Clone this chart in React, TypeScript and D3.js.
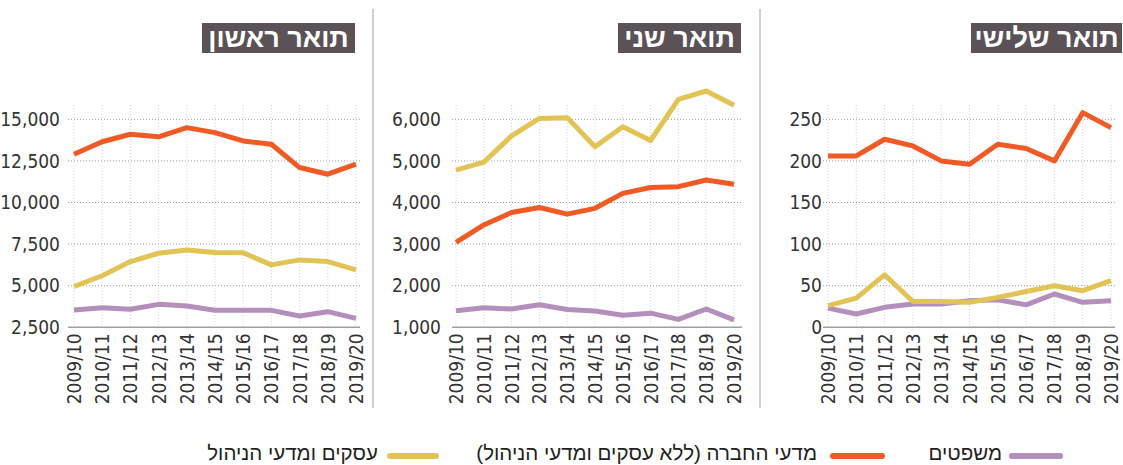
import React from 'react';
import * as d3 from 'd3';

const years = [
    '2009/10', '2010/11', '2011/12', '2012/13', '2013/14', '2014/15',
    '2015/16', '2016/17', '2017/18', '2018/19', '2019/20',
];

// תואר ראשון
const baSocial = [12900, 13650, 14100, 13950, 14500, 14200, 13700, 13500, 12100, 11700, 12300];
const baBusiness = [4950, 5600, 6450, 6950, 7150, 7000, 6980, 6250, 6550, 6450, 5950];
const baLaw = [3540, 3680, 3580, 3880, 3780, 3520, 3520, 3520, 3180, 3440, 3040];
const baTicks = [2500, 5000, 7500, 10000, 12500, 15000];

// תואר שני
const maSocial = [3040, 3460, 3760, 3880, 3720, 3860, 4220, 4360, 4380, 4540, 4440];
const maBusiness = [4780, 4970, 5600, 6020, 6040, 5340, 5820, 5490, 6480, 6680, 6340];
const maLaw = [1400, 1470, 1440, 1540, 1430, 1390, 1290, 1340, 1190, 1440, 1180];
const maTicks = [1000, 2000, 3000, 4000, 5000, 6000];

// תואר שלישי
const phdSocial = [206, 206, 226, 218, 200, 196, 220, 215, 200, 258, 240];
const phdBusiness = [26, 35, 63, 31, 31, 30, 36, 43, 50, 44, 56];
const phdLaw = [23, 16, 24, 28, 28, 32, 33, 27, 40, 30, 32];
const phdTicks = [0, 50, 100, 150, 200, 250];

const seriesNames = {
    law: 'משפטים',
    social: 'מדעי החברה (ללא עסקים ומדעי הניהול)',
    business: 'עסקים ומדעי הניהול',
};

const colors = {
    law: '#b48fbb',
    social: '#f05a24',
    business: '#e2c456',
};

const FONT = "'Liberation Sans Narrow', 'DejaVu Sans Condensed', sans-serif";
const HEB = "'Liberation Sans', 'DejaVu Sans Condensed', sans-serif";

interface PanelProps {
    title: string;
    titleLeft: number;
    titleRight: number;
    labelX: number;
    xFirst: number;
    xLast: number;
    gridLeft: number;
    gridRight: number;
    ticks: number[];
    law: number[];
    social: number[];
    business: number[];
}

const Panel: React.FC<PanelProps> = (p) => {
    const yTop = 119.3;
    const yBottom = 327.3;
    const gridTop = 105;

    const x = d3.scalePoint<string>().domain(years).range([p.xFirst, p.xLast]);
    const y = d3
        .scaleLinear()
        .domain([p.ticks[0], p.ticks[p.ticks.length - 1]])
        .range([yBottom, yTop]);

    const line = d3
        .line<number>()
        .x((_, i) => x(years[i]) as number)
        .y((d) => y(d));

    const fmt = d3.format(',');

    const series: Array<[keyof typeof colors, number[]]> = [
        ['law', p.law],
        ['business', p.business],
        ['social', p.social],
    ];

    return (
        <g>
            {/* כותרת */}
            <rect
                x={p.titleLeft}
                y={23}
                width={p.titleRight - p.titleLeft}
                height={30}
                fill="#5b5257"
            />
            <text
                x={(p.titleLeft + p.titleRight) / 2}
                y={46.5}
                textAnchor="middle"
                fill="#fff"
                fontWeight="bold"
                fontSize={27}
                fontFamily={HEB}
            >
                {p.title}
            </text>

            {/* קווי רשת אנכיים */}
            {years.map((yr) => (
                <line
                    key={yr}
                    x1={x(yr)}
                    x2={x(yr)}
                    y1={gridTop}
                    y2={yBottom}
                    stroke="#d4d4d4"
                    strokeWidth={1}
                    strokeDasharray="1,2"
                />
            ))}

            {/* קווי רשת אופקיים */}
            {p.ticks.map((t) => (
                <g key={t}>
                    {t !== p.ticks[0] && (
                        <line
                            x1={p.gridLeft}
                            x2={p.gridRight}
                            y1={y(t)}
                            y2={y(t)}
                            stroke="#9a9a9a"
                            strokeWidth={1}
                            strokeDasharray="1,2"
                        />
                    )}
                    <text
                        x={p.labelX}
                        y={y(t)}
                        dy="0.35em"
                        textAnchor="end"
                        fontSize={19}
                        fill="#333"
                        fontFamily={FONT}
                    >
                        {fmt(t)}
                    </text>
                </g>
            ))}

            <line
                x1={p.gridLeft}
                x2={p.gridRight}
                y1={yBottom}
                y2={yBottom}
                stroke="#a0a0a0"
                strokeWidth={1.5}
            />

            {series.map(([k, vals]) => (
                <path
                    key={k}
                    d={line(vals) || ''}
                    fill="none"
                    stroke={colors[k]}
                    strokeWidth={5}
                    strokeLinejoin="round"
                />
            ))}

            {/* תוויות ציר X */}
            {years.map((yr) => (
                <text
                    key={yr}
                    transform={`translate(${(x(yr) as number) + 7}, ${yBottom + 6}) rotate(-90)`}
                    textAnchor="end"
                    fontSize={19}
                    fill="#333"
                    fontFamily={FONT}
                >
                    {yr}
                </text>
            ))}
        </g>
    );
};

const LegendItem: React.FC<{ x1: number; x2: number; textX: number; color: string; label: string }> = ({
    x1,
    x2,
    textX,
    color,
    label,
}) => (
    <g>
        <line x1={x1} x2={x2} y1={456} y2={456} stroke={color} strokeWidth={6} strokeLinecap="round" />
        <text
            x={textX}
            y={460}
            direction="rtl"
            textAnchor="start"
            fontSize={20.5}
            fill="#231f20"
            fontFamily={HEB}
        >
            {label}
        </text>
    </g>
);

export default function App() {
    return (
        <svg
            width={1123}
            height={465}
            style={{ position: 'absolute', left: 0, top: 0, background: '#fff' }}
        >
            <Panel
                title="תואר ראשון"
                titleLeft={202}
                titleRight={355}
                labelX={60}
                xFirst={74}
                xLast={356}
                gridLeft={68}
                gridRight={360}
                ticks={baTicks}
                law={baLaw}
                social={baSocial}
                business={baBusiness}
            />
            <Panel
                title="תואר שני"
                titleLeft={618}
                titleRight={741}
                labelX={441}
                xFirst={456}
                xLast={734}
                gridLeft={452}
                gridRight={742}
                ticks={maTicks}
                law={maLaw}
                social={maSocial}
                business={maBusiness}
            />
            <Panel
                title="תואר שלישי"
                titleLeft={971}
                titleRight={1122}
                labelX={822}
                xFirst={828}
                xLast={1111}
                gridLeft={823}
                gridRight={1115}
                ticks={phdTicks}
                law={phdLaw}
                social={phdSocial}
                business={phdBusiness}
            />

            {/* קווי הפרדה */}
            <line x1={373} x2={373} y1={9} y2={408} stroke="#cfcfcf" strokeWidth={2} />
            <line x1={760} x2={760} y1={9} y2={408} stroke="#cfcfcf" strokeWidth={2} />

            {/* מקרא */}
            <LegendItem x1={1012} x2={1060} textX={1002} color={colors.law} label={seriesNames.law} />
            <LegendItem x1={833} x2={882} textX={817} color={colors.social} label={seriesNames.social} />
            <LegendItem x1={390} x2={436} textX={378} color={colors.business} label={seriesNames.business} />
        </svg>
    );
}
